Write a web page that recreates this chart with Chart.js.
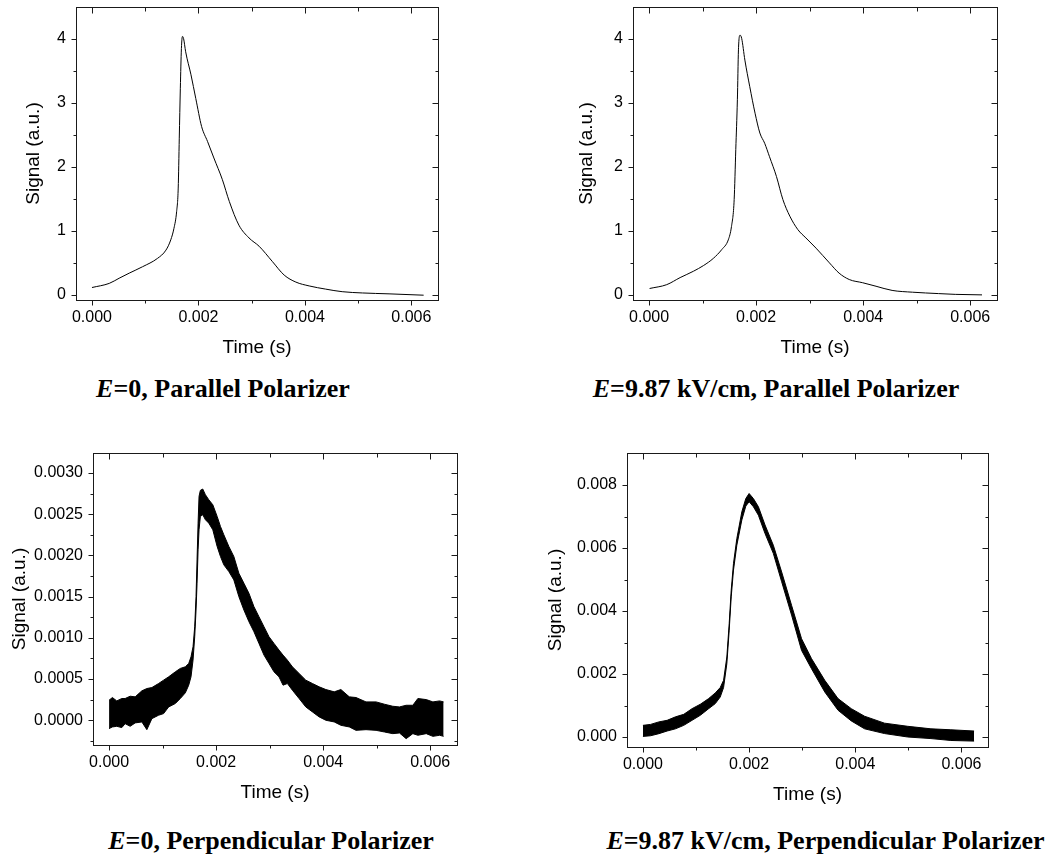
<!DOCTYPE html>
<html><head><meta charset="utf-8">
<script src="https://cdn.jsdelivr.net/npm/chart.js@4/dist/chart.umd.min.js"></script>
<style>
html,body{margin:0;padding:0;background:#fff;width:1056px;height:856px;overflow:hidden;}
canvas{position:absolute;}
.cap{position:absolute;font-family:"Liberation Serif","Times New Roman",serif;font-weight:bold;font-size:26px;line-height:26px;text-align:center;white-space:nowrap;color:#000;}
</style></head><body>
<canvas id="c1" width="470" height="365" style="left:0px;top:0px"></canvas>
<canvas id="c2" width="470" height="365" style="left:557px;top:0px"></canvas>
<canvas id="c3" width="487" height="364" style="left:0px;top:446px"></canvas>
<canvas id="c4" width="488" height="366" style="left:530px;top:446px"></canvas>
<div class="cap" style="left:-27px;top:376px;width:500px"><i>E</i>=0, Parallel Polarizer</div>
<div class="cap" style="left:526px;top:376px;width:500px"><i>E</i>=9.87 kV/cm, Parallel Polarizer</div>
<div class="cap" style="left:21px;top:828px;width:500px"><i>E</i>=0, Perpendicular Polarizer</div>
<div class="cap" style="left:595px;top:828px;width:461px"><i>E</i>=9.87 kV/cm, Perpendicular Polarizer</div>
<script>
// ---------- data ----------
const xMajor = [0, 0.002, 0.004, 0.006];
const xMinor = [0.001, 0.003, 0.005];
const xTickLabels = ['0.000', '0.002', '0.004', '0.006'];

const yMajor12 = [0, 1, 2, 3, 4];
const yMinor12 = [0.5, 1.5, 2.5, 3.5];
const yTickLabels12 = ['0', '1', '2', '3', '4'];

const yMajor3 = [0, 0.0005, 0.001, 0.0015, 0.002, 0.0025, 0.003];
const yMinor3 = [-0.00025, 0.00025, 0.00075, 0.00125, 0.00175, 0.00225, 0.00275];
const yTickLabels3 = ['0.0000', '0.0005', '0.0010', '0.0015', '0.0020', '0.0025', '0.0030'];

const yMajor4 = [0, 0.002, 0.004, 0.006, 0.008];
const yMinor4 = [0.001, 0.003, 0.005, 0.007];
const yTickLabels4 = ['0.000', '0.002', '0.004', '0.006', '0.008'];

// Panel 1: E=0, parallel
const time1 = [0, 0.000325, 0.00051, 0.0007, 0.00095, 0.00123, 0.00139, 0.00148, 0.00154, 0.00159, 0.00162, 0.00164, 0.00166, 0.00168, 0.0017, 0.00172, 0.00176, 0.00186, 0.00195, 0.00206, 0.00217, 0.00229, 0.00245, 0.00258, 0.00276, 0.00295, 0.00314, 0.00339, 0.00361, 0.00383, 0.00408, 0.00439, 0.0047, 0.00508, 0.00558, 0.00623];
const signal1 = [0.115, 0.18, 0.26, 0.34, 0.44, 0.57, 0.70, 0.86, 1.04, 1.30, 1.67, 2.45, 3.23, 3.85, 4.04, 4.01, 3.80, 3.44, 3.07, 2.63, 2.40, 2.14, 1.80, 1.46, 1.09, 0.89, 0.76, 0.52, 0.31, 0.20, 0.14, 0.09, 0.05, 0.03, 0.016, -0.005];

// Panel 2: E=9.87 kV/cm, parallel
const time2 = [0.00001, 0.00033, 0.00058, 0.00083, 0.00102, 0.0012, 0.00136, 0.00148, 0.00154, 0.00159, 0.00162, 0.00165, 0.00167, 0.0017, 0.00173, 0.00179, 0.00188, 0.00198, 0.00207, 0.00216, 0.00225, 0.00238, 0.0025, 0.00263, 0.00278, 0.00293, 0.00312, 0.00337, 0.00355, 0.00374, 0.00399, 0.00424, 0.00454, 0.00492, 0.00541, 0.00572, 0.00622];
const signal2 = [0.10, 0.16, 0.27, 0.37, 0.46, 0.57, 0.71, 0.86, 1.07, 1.49, 2.27, 3.05, 3.83, 4.06, 4.01, 3.67, 3.26, 2.84, 2.53, 2.37, 2.16, 1.85, 1.49, 1.23, 1.02, 0.89, 0.73, 0.50, 0.34, 0.24, 0.19, 0.135, 0.07, 0.042, 0.02, 0.008, 0.0];

// Panel 3: E=0, perpendicular (noisy trace, upper and lower envelope)
const time3 = [0, 0.0000625, 0.000144, 0.000238, 0.0003, 0.000394, 0.000488, 0.000613, 0.000706, 0.0008, 0.000925, 0.001019, 0.001113, 0.001238, 0.001331, 0.001425, 0.001488, 0.001531, 0.001569, 0.0016, 0.001625, 0.001644, 0.001663, 0.001681, 0.001706, 0.00175, 0.0018, 0.001863, 0.001938, 0.002019, 0.002081, 0.002144, 0.002238, 0.002331, 0.002425, 0.002519, 0.002613, 0.002706, 0.0028, 0.002894, 0.002988, 0.003081, 0.003175, 0.00325, 0.003331, 0.003425, 0.00355, 0.003675, 0.0038, 0.003925, 0.00405, 0.004206, 0.004331, 0.004488, 0.004613, 0.0048, 0.004988, 0.005144, 0.0053, 0.005425, 0.00555, 0.005675, 0.005769, 0.005925, 0.00605, 0.006175, 0.00625];
const upper3 = [0.000243, 0.000276, 0.000235, 0.000264, 0.000264, 0.000292, 0.000284, 0.000357, 0.000385, 0.000397, 0.000446, 0.000487, 0.000527, 0.000588, 0.000629, 0.000649, 0.000689, 0.00077, 0.000892, 0.001135, 0.0015, 0.001946, 0.002392, 0.002717, 0.00279, 0.002806, 0.002737, 0.002676, 0.002615, 0.002474, 0.002352, 0.002251, 0.002109, 0.001987, 0.001784, 0.001663, 0.001541, 0.001379, 0.001257, 0.001135, 0.001014, 0.000933, 0.000852, 0.000791, 0.00073, 0.000649, 0.000568, 0.000487, 0.000446, 0.000406, 0.000373, 0.000345, 0.000373, 0.000284, 0.000276, 0.000223, 0.000223, 0.000195, 0.00017, 0.000162, 0.000182, 0.000182, 0.000264, 0.000251, 0.000223, 0.000235, 0.000223];
const lower3 = [-0.000101, -0.000081, -0.000073, -0.000089, -0.000041, -0.000073, -0.000032, -0.00002, -0.000114, 0.00002, 0.000061, 0.000081, 0.000162, 0.000203, 0.000264, 0.000333, 0.000426, 0.000527, 0.00073, 0.001014, 0.001338, 0.001663, 0.002068, 0.002311, 0.002473, 0.002494, 0.002433, 0.002392, 0.002311, 0.002109, 0.001987, 0.001886, 0.001804, 0.001703, 0.0015, 0.001338, 0.001196, 0.001075, 0.000933, 0.000791, 0.000689, 0.000588, 0.000527, 0.000426, 0.000446, 0.000365, 0.000264, 0.000162, 0.000101, 0.000041, 0, -0.00002, -0.000061, -0.000081, -0.000122, -0.000114, -0.000122, -0.000142, -0.000162, -0.000154, -0.000223, -0.000162, -0.000182, -0.000162, -0.000195, -0.000182, -0.000195];

// Panel 4: E=9.87 kV/cm, perpendicular (upper and lower envelope)
const time4 = [0, 0.000144, 0.0003, 0.000456, 0.000613, 0.000769, 0.000925, 0.001081, 0.001238, 0.001363, 0.001456, 0.001519, 0.001581, 0.001625, 0.001663, 0.001706, 0.001769, 0.001863, 0.001938, 0.002, 0.002081, 0.002175, 0.0023, 0.002456, 0.002613, 0.0028, 0.002988, 0.003175, 0.003425, 0.003675, 0.003925, 0.004175, 0.00455, 0.004988, 0.005425, 0.0058, 0.006238];
const upper4 = [0.00037, 0.0004, 0.00048, 0.00053, 0.00064, 0.00072, 0.0009, 0.00104, 0.00122, 0.0014, 0.00157, 0.0018, 0.00254, 0.0036, 0.00466, 0.00551, 0.0063, 0.00715, 0.00757, 0.00773, 0.00757, 0.00731, 0.00673, 0.00609, 0.00524, 0.00418, 0.00312, 0.00249, 0.0018, 0.00122, 0.0009, 0.00066, 0.00044, 0.00034, 0.00026, 0.00023, 0.00019];
const lower4 = [0.00002, 0.00004, 0.000106, 0.00019, 0.00026, 0.00037, 0.00053, 0.00069, 0.0009, 0.00106, 0.00127, 0.00157, 0.00233, 0.00339, 0.00445, 0.0053, 0.00609, 0.00689, 0.00733, 0.00747, 0.00731, 0.00704, 0.00646, 0.00583, 0.00493, 0.00387, 0.00275, 0.00217, 0.00143, 0.00085, 0.00051, 0.00026, 0.00011, 0, -0.00005, -0.00011, -0.00013];

// ---------- rendering ----------
const SANS = '"Liberation Sans", Arial, sans-serif';
const pts = (ts, ys) => ts.map((t, i) => ({x: t, y: ys[i]}));

const framePlugin = {
  id: 'frame',
  afterDraw(chart, args, o) {
    const {ctx, chartArea: a, scales: {x, y}} = chart;
    const L = Math.round(a.left) + 0.5, R = Math.round(a.right) + 0.5;
    const T = Math.round(a.top) + 0.5, B = Math.round(a.bottom) + 0.5;
    ctx.save();
    ctx.strokeStyle = '#1a1a1a';
    ctx.lineWidth = 1;
    ctx.strokeRect(L, T, R - L, B - T);
    const seg = (x1, y1, x2, y2) => { ctx.beginPath(); ctx.moveTo(x1, y1); ctx.lineTo(x2, y2); ctx.stroke(); };
    const xt = (vals, out, inn) => vals.forEach(v => {
      const p = Math.round(x.getPixelForValue(v)) + 0.5;
      seg(p, B, p, B + out); seg(p, T, p, T + inn);
    });
    const yt = (vals, out, inn) => vals.forEach(v => {
      const p = Math.round(y.getPixelForValue(v)) + 0.5;
      seg(L - out, p, L, p); seg(R, p, R - inn, p);
    });
    xt(o.xMajor, 5, 6); xt(o.xMinor, 3, 4);
    yt(o.yMajor, 5, 6); yt(o.yMinor, 3, 3);
    ctx.restore();
  }
};

function makeChart(id, p) {
  return new Chart(document.getElementById(id), {
    type: 'line',
    data: { datasets: p.datasets },
    options: {
      responsive: false, animation: false, devicePixelRatio: 1,
      layout: { padding: { top: p.padTop, right: p.padRight, left: 0, bottom: 0 } },
      plugins: {
        legend: { display: false }, tooltip: { enabled: false },
        frame: { xMajor: xMajor, xMinor: xMinor, yMajor: p.yMajor, yMinor: p.yMinor }
      },
      elements: { point: { radius: 0 } },
      scales: {
        x: {
          type: 'linear', min: -0.0003, max: 0.0065,
          grid: { display: false, drawTicks: false }, border: { display: false },
          afterBuildTicks: s => { s.ticks = xMajor.map(v => ({value: v})); },
          afterFit: s => { s.height = p.xAxisH; s.paddingLeft = 0; s.paddingRight = 0; s.paddingTop = 0; s.paddingBottom = 0; },
          ticks: { autoSkip: false, maxRotation: 0, padding: 8, color: '#000',
                   font: { family: SANS, size: 16 },
                   callback: (v, i) => xTickLabels[i] },
          title: { display: true, text: 'Time (s)', color: '#000',
                   font: { family: SANS, size: 19 }, padding: { top: 0, bottom: 6 } }
        },
        y: {
          type: 'linear', min: p.yMin, max: p.yMax,
          grid: { display: false, drawTicks: false }, border: { display: false },
          afterBuildTicks: s => { s.ticks = p.yMajor.map(v => ({value: v})); },
          afterFit: s => { s.width = p.yAxisW; s.paddingLeft = 0; s.paddingRight = 0; s.paddingTop = 0; s.paddingBottom = 0; },
          ticks: { autoSkip: false, padding: 10, color: '#000',
                   font: { family: SANS, size: 16 },
                   callback: (v, i) => p.yLabels[i] },
          title: { display: true, text: 'Signal (a.u.)', color: '#000',
                   font: { family: SANS, size: 19 }, padding: { top: p.yTitlePad, bottom: 0 } }
        }
      }
    },
    plugins: [framePlugin]
  });
}

const smoothLine = (ts, ys) => ({ data: pts(ts, ys), borderColor: '#000', borderWidth: 1,
  cubicInterpolationMode: 'monotone', fill: false, pointRadius: 0 });
const bandUpper = (ts, ys) => ({ data: pts(ts, ys), borderColor: '#000', borderWidth: 1,
  backgroundColor: '#000', fill: '+1', tension: 0, pointRadius: 0 });
const bandLower = (ts, ys) => ({ data: pts(ts, ys), borderColor: '#000', borderWidth: 1,
  fill: false, tension: 0, pointRadius: 0 });

makeChart('c1', { datasets: [smoothLine(time1, signal1)], padTop: 7, padRight: 32, xAxisH: 65, yAxisW: 76,
  yMin: -0.08, yMax: 4.5, yMajor: yMajor12, yMinor: yMinor12, yLabels: yTickLabels12, yTitlePad: 22 });
makeChart('c2', { datasets: [smoothLine(time2, signal2)], padTop: 7, padRight: 30, xAxisH: 65, yAxisW: 76,
  yMin: -0.08, yMax: 4.5, yMajor: yMajor12, yMinor: yMinor12, yLabels: yTickLabels12, yTitlePad: 18 });
makeChart('c3', { datasets: [bandUpper(time3, upper3), bandLower(time3, lower3)], padTop: 7, padRight: 30, xAxisH: 65, yAxisW: 93,
  yMin: -0.0003, yMax: 0.003243, yMajor: yMajor3, yMinor: yMinor3, yLabels: yTickLabels3, yTitlePad: 8 });
makeChart('c4', { datasets: [bandUpper(time4, upper4), bandLower(time4, lower4)], padTop: 7, padRight: 30, xAxisH: 65, yAxisW: 97,
  yMin: -0.000317, yMax: 0.009016, yMajor: yMajor4, yMinor: yMinor4, yLabels: yTickLabels4, yTitlePad: 14 });
</script>
</body></html>
